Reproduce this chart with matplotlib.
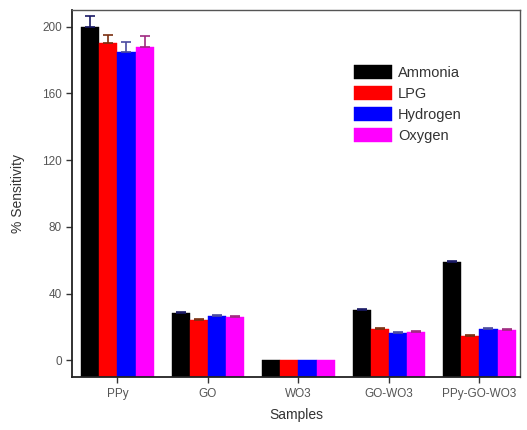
import numpy as np
import matplotlib.pyplot as plt

plt.rcParams['font.family'] = ['Liberation Sans', 'DejaVu Sans']

samples = ['PPy', 'GO', 'WO3', 'GO-WO3', 'PPy-GO-WO3']
gases = ['Ammonia', 'LPG', 'Hydrogen', 'Oxygen']

ammonia = [200, 28.5, 0, 30, 58.8]
lpg = [190, 24.5, 0, 18.8, 14.7]
hydrogen = [184.5, 26.5, 0, 16.5, 18.8]
oxygen = [188, 26, 0, 17, 18.3]

ammonia_err = [6.5, 0.8, 0, 0.8, 0.8]
lpg_err = [5, 0.6, 0, 0.6, 0.5]
hydrogen_err = [6.5, 0.8, 0, 0.6, 0.6]
oxygen_err = [6.5, 0.6, 0, 0.6, 0.6]

colors = ['#000000', '#ff0000', '#0000ff', '#ff00ff']
err_colors = ['#1a1a66', '#7a3010', '#4a4aa0', '#a02a80']

ymin = -10
values = [ammonia, lpg, hydrogen, oxygen]
errors = [ammonia_err, lpg_err, hydrogen_err, oxygen_err]

fig = plt.figure(figsize=(5.27, 4.3), dpi=100)
ax = fig.add_axes([0.137, 0.123, 0.85, 0.854])

x = np.arange(1, len(samples) + 1)
w = 0.2
for i, (name, vals, errs) in enumerate(zip(gases, values, errors)):
    vals = np.array(vals, dtype=float)
    errs = np.array(errs, dtype=float)
    pos = x + (i - 1.5) * w
    ax.bar(pos, vals - ymin, bottom=ymin, width=w, color=colors[i],
           edgecolor=colors[i], linewidth=0.3, label=name, zorder=2)
    # no caps where there is no spread
    has_err = errs > 0
    ax.errorbar(pos[has_err], vals[has_err],
                yerr=[np.zeros(has_err.sum()), errs[has_err]], fmt='none',
                ecolor=err_colors[i], elinewidth=1.2, capsize=3.5,
                capthick=1.2, zorder=3)

ax.set_xlim(0.5, 5.45)
ax.set_ylim(ymin, 210)
ax.set_yticks([0, 40, 80, 120, 160, 200])
ax.set_xticks(x)
ax.set_xticklabels(samples)
ax.tick_params(axis='both', direction='out', length=4, width=1,
               labelsize=8.5, colors='#333333', labelcolor='#555555')

for side in ['left', 'bottom']:
    ax.spines[side].set_linewidth(1.3)
    ax.spines[side].set_color('#222222')
for side in ['top', 'right']:
    ax.spines[side].set_linewidth(1.0)
    ax.spines[side].set_color('#555555')

ax.set_xlabel('Samples', fontsize=10, color='#333333', labelpad=6)
ax.set_ylabel('% Sensitivity', fontsize=10, color='#333333', labelpad=12)

ax.legend(loc='upper left', bbox_to_anchor=(0.6, 0.885), frameon=False,
          fontsize=10.5, handlelength=2.6, handleheight=1.1,
          labelspacing=0.42, handletextpad=0.4, labelcolor='#333333')

fig.savefig('out.png', dpi=100)
